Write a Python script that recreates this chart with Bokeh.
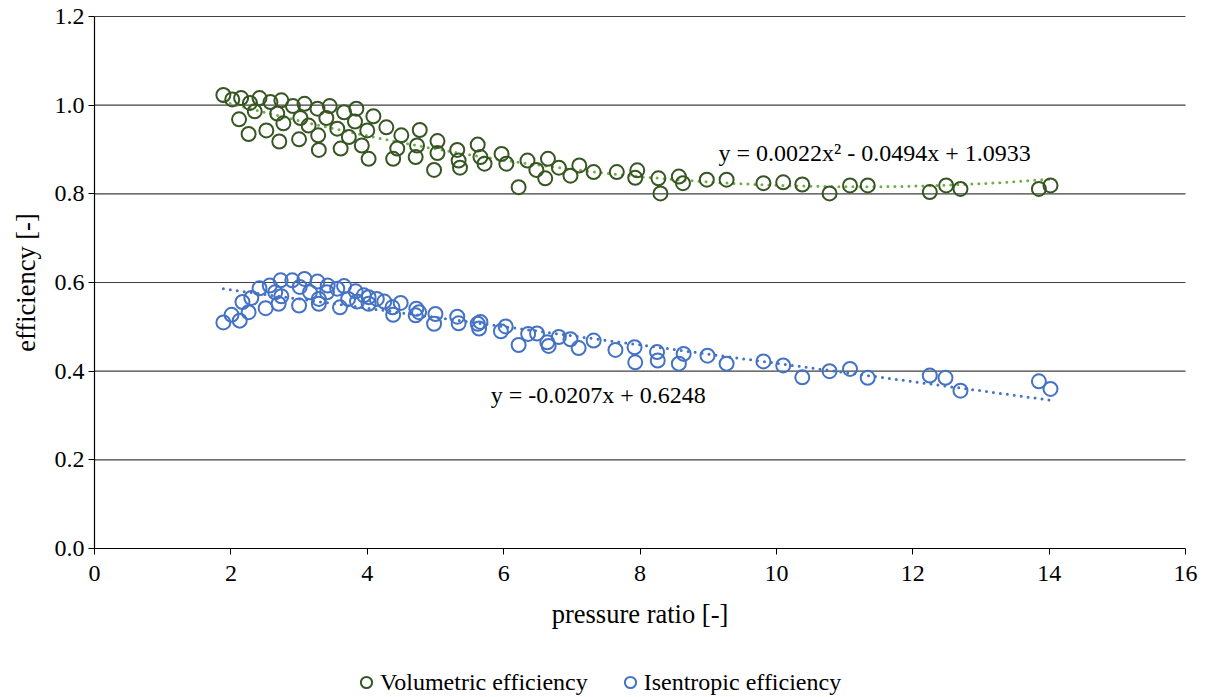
import numpy as np
from bokeh.plotting import figure
from bokeh.models import Range1d, Legend, LegendItem, Label, FixedTicker, CustomJSTickFormatter
from bokeh.embed import file_html
from bokeh.resources import INLINE

# ---------------- data ----------------
vol_x = [1.89, 2.02, 2.15, 2.28, 2.42, 2.35, 2.12, 2.58, 2.68, 2.74, 2.26, 2.52, 2.77, 2.91,
         3.08, 3.02, 2.71, 3.00, 3.14, 3.27, 3.28, 3.29, 3.40, 3.45, 3.56, 3.66, 3.61, 3.73,
         3.84, 3.82, 4.00, 4.09, 3.92, 4.02, 4.28, 4.50, 4.44, 4.38, 4.77, 4.73, 4.71, 5.03,
         5.03, 4.98, 5.32, 5.34, 5.36, 5.62, 5.72, 5.66, 5.97, 6.04, 6.22, 6.35, 6.48, 6.65,
         6.61, 6.81, 6.98, 7.11, 7.32, 7.66, 7.96, 7.93, 8.30, 8.27, 8.57, 8.63, 8.98, 9.27,
         9.81, 10.10, 10.38, 10.78, 11.08, 11.34, 12.25, 12.49, 12.70, 13.85, 14.02]
vol_y = [1.023, 1.013, 1.016, 1.005, 1.016, 0.986, 0.968, 1.007, 0.981, 1.011, 0.935, 0.943,
         0.959, 0.998, 1.003, 0.971, 0.918, 0.923, 0.954, 0.992, 0.932, 0.899, 0.971, 0.998,
         0.947, 0.984, 0.902, 0.928, 0.992, 0.963, 0.943, 0.975, 0.909, 0.879, 0.950, 0.932,
         0.902, 0.879, 0.944, 0.909, 0.883, 0.919, 0.892, 0.854, 0.899, 0.875, 0.859, 0.911,
         0.868, 0.883, 0.890, 0.868, 0.815, 0.875, 0.854, 0.879, 0.835, 0.859, 0.841, 0.864,
         0.849, 0.849, 0.853, 0.836, 0.801, 0.835, 0.839, 0.824, 0.832, 0.832, 0.824, 0.826,
         0.821, 0.801, 0.819, 0.819, 0.804, 0.819, 0.811, 0.811, 0.819]

ise_x = [1.89, 2.01, 2.13, 2.17, 2.26, 2.30, 2.42, 2.51, 2.57, 2.65, 2.73, 2.74, 2.70, 2.90,
         3.01, 3.00, 3.08, 3.16, 3.27, 3.29, 3.29, 3.42, 3.41, 3.56, 3.60, 3.66, 3.72, 3.83,
         3.85, 3.95, 4.02, 4.02, 4.14, 4.25, 4.38, 4.37, 4.49, 4.72, 4.71, 4.76, 5.00, 4.98,
         5.32, 5.34, 5.62, 5.66, 5.64, 5.96, 6.03, 6.22, 6.36, 6.49, 6.64, 6.66, 6.81, 6.98,
         7.10, 7.32, 7.64, 7.92, 7.93, 8.25, 8.26, 8.57, 8.64, 8.99, 9.27, 9.81, 10.10, 10.38,
         10.78, 11.08, 11.34, 12.25, 12.48, 12.70, 13.85, 14.02]
ise_y = [0.510, 0.527, 0.514, 0.556, 0.533, 0.565, 0.587, 0.542, 0.593, 0.578, 0.605, 0.569,
         0.552, 0.605, 0.590, 0.548, 0.608, 0.578, 0.602, 0.563, 0.552, 0.593, 0.578, 0.586,
         0.544, 0.592, 0.563, 0.580, 0.557, 0.571, 0.552, 0.567, 0.563, 0.557, 0.527, 0.544,
         0.554, 0.541, 0.526, 0.533, 0.529, 0.507, 0.523, 0.508, 0.507, 0.511, 0.496, 0.490,
         0.501, 0.459, 0.484, 0.485, 0.465, 0.457, 0.477, 0.472, 0.452, 0.469, 0.448, 0.454,
         0.420, 0.443, 0.424, 0.417, 0.439, 0.435, 0.417, 0.422, 0.413, 0.386, 0.400, 0.405,
         0.385, 0.390, 0.385, 0.356, 0.377, 0.360]

vol_coef = [0.0022, -0.0494, 1.0933]   # quadratic trendline
ise_coef = [-0.0207, 0.6248]           # linear trendline
vol_eq = "y = 0.0022x\u00b2 - 0.0494x + 1.0933"
ise_eq = "y = -0.0207x + 0.6248"
x_title = "pressure ratio [-]"
y_title = "efficiency [-]"
y_ticks = [0.0, 0.2, 0.4, 0.6, 0.8, 1.0, 1.2]
x_ticks = [0, 2, 4, 6, 8, 10, 12, 14, 16]

FONT = "'Liberation Serif', 'Times New Roman', serif"
GREEN = "#375623"
GREEN_T = "#70AD47"
BLUE = "#4472C4"
GRID = "#404040"

W, H = 1215, 697
# plot area in pixels: x 94..1185 (0..16), y 16..548 (1.2..0); frame = whole canvas
PX_X = (1185 - 94) / 16.0
PX_Y = (548 - 16) / 1.2
x_view = (-94 / PX_X, 16 + (W - 1185) / PX_X)
y_view = (-(H - 548) / PX_Y, 1.2 + 16 / PX_Y)

p = figure(width=W, height=H, output_backend="svg", toolbar_location=None,
           x_range=Range1d(*x_view), y_range=Range1d(*y_view),
           min_border_left=0, min_border_right=0, min_border_top=0, min_border_bottom=0)
p.outline_line_color = None
p.background_fill_color = "white"
p.border_fill_color = "white"

# horizontal gridlines, limited to the x-axis extent
p.xgrid.grid_line_color = None
p.ygrid.grid_line_color = None
g_y = y_ticks[1:]
p.segment(x0=[x_ticks[0]] * len(g_y), x1=[x_ticks[-1]] * len(g_y), y0=g_y, y1=g_y,
          line_color=GRID, line_width=1.1)

# trendlines
tx_v = np.linspace(min(vol_x), max(vol_x), 200)
ty_v = np.polyval(vol_coef, tx_v)
tx_i = np.linspace(min(ise_x), max(ise_x), 200)
ty_i = np.polyval(ise_coef, tx_i)
p.line(tx_v, ty_v, line_color=GREEN_T, line_width=3, line_dash="0 7", line_cap="round")
p.line(tx_i, ty_i, line_color=BLUE, line_width=3, line_dash="0 7", line_cap="round")

r_v = p.scatter(vol_x, vol_y, marker="circle", size=14, fill_color=None,
                line_color=GREEN, line_width=2)
r_i = p.scatter(ise_x, ise_y, marker="circle", size=14, fill_color=None,
                line_color=BLUE, line_width=2)

# axes (fixed at the data origin, so they take no layout space)
for ax in (p.xaxis[0], p.yaxis[0]):
    ax.axis_line_color = "black"
    ax.axis_line_width = 1.2
    ax.major_tick_line_color = "black"
    ax.major_tick_out = 6
    ax.major_tick_in = 0
    ax.minor_tick_line_color = None
    ax.major_label_text_font = FONT
    ax.major_label_text_font_size = "24px"
    ax.major_label_text_color = "black"

p.xaxis.ticker = FixedTicker(ticks=x_ticks)
p.yaxis.ticker = FixedTicker(ticks=y_ticks)
p.yaxis.formatter = CustomJSTickFormatter(code="return tick.toFixed(1);")
p.xaxis.fixed_location = 0
p.yaxis.fixed_location = 0
p.xaxis.bounds = (0, 16)
p.yaxis.bounds = (0, 1.2)
p.xaxis.major_label_standoff = 11
p.yaxis.major_label_standoff = 4

# axis titles
p.add_layout(Label(x=639.5, y=H - 613, x_units="screen", y_units="screen", text=x_title,
                   text_font=FONT, text_font_size="26.5px", text_align="center",
                   text_baseline="middle", text_color="black"))
p.add_layout(Label(x=25, y=H - 282, x_units="screen", y_units="screen", text=y_title,
                   angle=np.pi / 2, text_font=FONT, text_font_size="26.5px",
                   text_align="center", text_baseline="middle", text_color="black"))

# equations
p.add_layout(Label(x=9.15, y=0.891, text=vol_eq, text_font=FONT, text_font_size="24px",
                   text_baseline="middle", text_align="left", text_color="black"))
p.add_layout(Label(x=5.81, y=0.347, text=ise_eq, text_font=FONT, text_font_size="24px",
                   text_baseline="middle", text_align="left", text_color="black"))

legend = Legend(items=[LegendItem(label="Volumetric efficiency", renderers=[r_v]),
                       LegendItem(label="Isentropic efficiency", renderers=[r_i])],
                orientation="horizontal", location=(352, 1),
                glyph_width=28, glyph_height=28, label_standoff=-4, spacing=28,
                padding=0, margin=0, border_line_color=None, background_fill_alpha=0,
                label_text_font=FONT, label_text_font_size="24px", label_text_color="black")
p.add_layout(legend, "center")

open("out.html", "w").write(file_html(p, INLINE))
